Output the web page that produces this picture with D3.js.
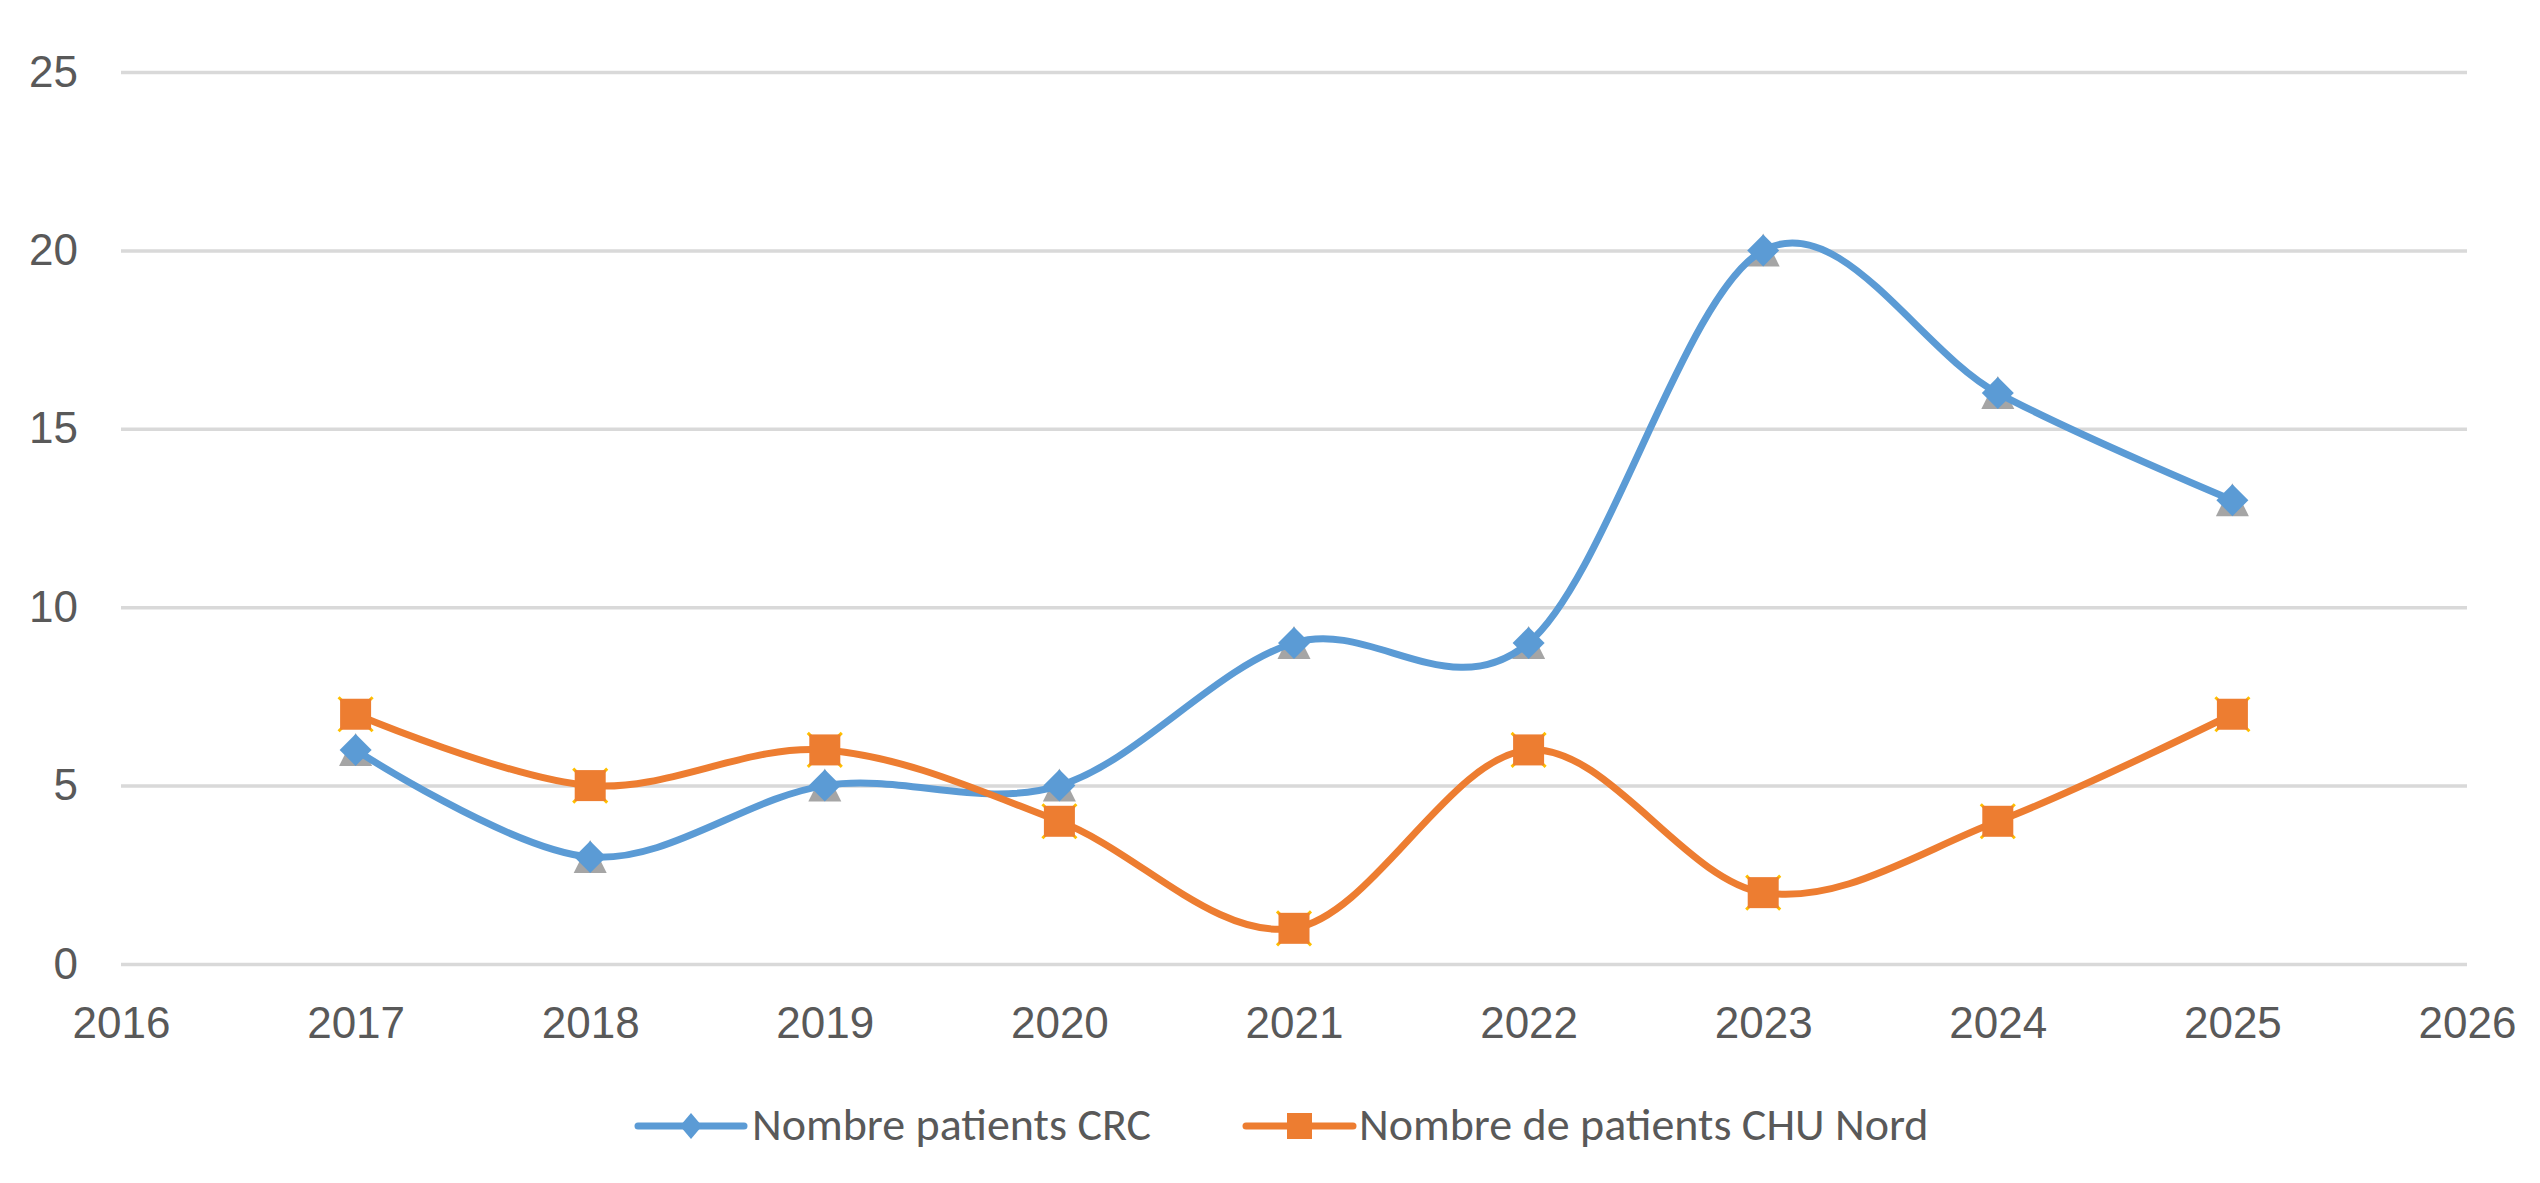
<!DOCTYPE html>
<html>
<head>
<meta charset="utf-8">
<script src="https://cdn.jsdelivr.net/npm/d3@7"></script>
<style>
  body { margin: 0; background: #fff; }
  svg { display: block; font-family: Calibri, Carlito, "Liberation Sans", sans-serif; }
</style>
</head>
<body>
<svg id="chart" width="2540" height="1183"></svg>
<script>
const years = [2017, 2018, 2019, 2020, 2021, 2022, 2023, 2024, 2025];
const crc = [6, 3, 5, 5, 9, 9, 20, 16, 13];
const chu = [7, 5, 6, 4, 1, 6, 2, 4, 7];
const xTicks = [2016, 2017, 2018, 2019, 2020, 2021, 2022, 2023, 2024, 2025, 2026];
const yTicks = [0, 5, 10, 15, 20, 25];
const names = ["Nombre patients CRC", "Nombre de patients CHU Nord"];

const blue = "#5B9BD5", orange = "#ED7D31", gray = "#A5A5A5", gold = "#FFC000";
const textColor = "#595959";

const svg = d3.select("#chart");
svg.append("rect").attr("width", 2540).attr("height", 1183).attr("fill", "#fff");

const x = d3.scaleLinear().domain([2016, 2026]).range([121, 2467]);
const y = d3.scaleLinear().domain([0, 25]).range([964, 72]);

// y axis + gridlines
const gy = svg.append("g")
  .attr("transform", `translate(${x(2016)},0)`)
  .call(d3.axisLeft(y).tickValues(yTicks).tickSize(-(x(2026) - x(2016))).tickPadding(43));
gy.select(".domain").remove();
gy.selectAll(".tick line").attr("stroke", "#D9D9D9").attr("stroke-width", 3.5);
gy.selectAll(".tick text").attr("fill", textColor).attr("font-size", 44);

// x axis labels
const gx = svg.append("g")
  .attr("transform", `translate(0,${y(0)})`)
  .call(d3.axisBottom(x).tickValues(xTicks).tickFormat(d3.format("d")).tickSize(0).tickPadding(43));
gx.select(".domain").remove();
gx.selectAll(".tick text").attr("fill", textColor).attr("font-size", 44);

const crcPts = years.map((yr, i) => ({ yr, v: crc[i] }));
const chuPts = years.map((yr, i) => ({ yr, v: chu[i] }));

const diamond = "M0,-16L16,0L0,16L-16,0Z";
const triangle = "M0,-17L16.5,16L-16.5,16Z";
const cross = "M-17,-17L17,17M17,-17L-17,17";

// hidden duplicate series markers peeking behind
svg.append("g").selectAll("path").data(crcPts).join("path")
  .attr("d", triangle).attr("fill", gray)
  .attr("transform", d => `translate(${x(d.yr)},${y(d.v)})`);
svg.append("g").selectAll("path").data(chuPts).join("path")
  .attr("d", cross).attr("stroke", gold).attr("stroke-width", 3).attr("fill", "none")
  .attr("transform", d => `translate(${x(d.yr)},${y(d.v)})`);

const line = d3.line()
  .x(d => x(d.yr))
  .y(d => y(d.v))
  .curve(d3.curveCardinal.tension(0));

svg.append("path").datum(crcPts).attr("d", line)
  .attr("fill", "none").attr("stroke", blue).attr("stroke-width", 7).attr("stroke-linecap", "round");
svg.append("path").datum(chuPts).attr("d", line)
  .attr("fill", "none").attr("stroke", orange).attr("stroke-width", 7).attr("stroke-linecap", "round");

svg.append("g").selectAll("path").data(crcPts).join("path")
  .attr("d", diamond).attr("fill", blue)
  .attr("transform", d => `translate(${x(d.yr)},${y(d.v)})`);
svg.append("g").selectAll("rect").data(chuPts).join("rect")
  .attr("x", d => x(d.yr) - 15.5).attr("y", d => y(d.v) - 15.5)
  .attr("width", 31).attr("height", 31).attr("fill", orange);

// legend
const legend = [
  { name: names[0], color: blue, x0: 638, x1: 744, tx: 752 },
  { name: names[1], color: orange, x0: 1246, x1: 1353, tx: 1359 }
];
const ly = 1126;
const lg = svg.append("g").selectAll("g").data(legend).join("g");
lg.append("line")
  .attr("x1", d => d.x0).attr("x2", d => d.x1).attr("y1", ly).attr("y2", ly)
  .attr("stroke", d => d.color).attr("stroke-width", 7).attr("stroke-linecap", "round");
lg.filter((d, i) => i === 0).append("path")
  .attr("d", "M0,-13L11,0L0,13L-11,0Z").attr("fill", blue)
  .attr("transform", d => `translate(${(d.x0 + d.x1) / 2},${ly})`);
lg.filter((d, i) => i === 1).append("rect")
  .attr("x", d => (d.x0 + d.x1) / 2 - 12.5).attr("y", ly - 13)
  .attr("width", 25).attr("height", 26).attr("fill", orange);
lg.append("text")
  .attr("x", d => d.tx).attr("y", 1140)
  .attr("fill", textColor).attr("font-size", 46)
  .text(d => d.name);
</script>
</body>
</html>
